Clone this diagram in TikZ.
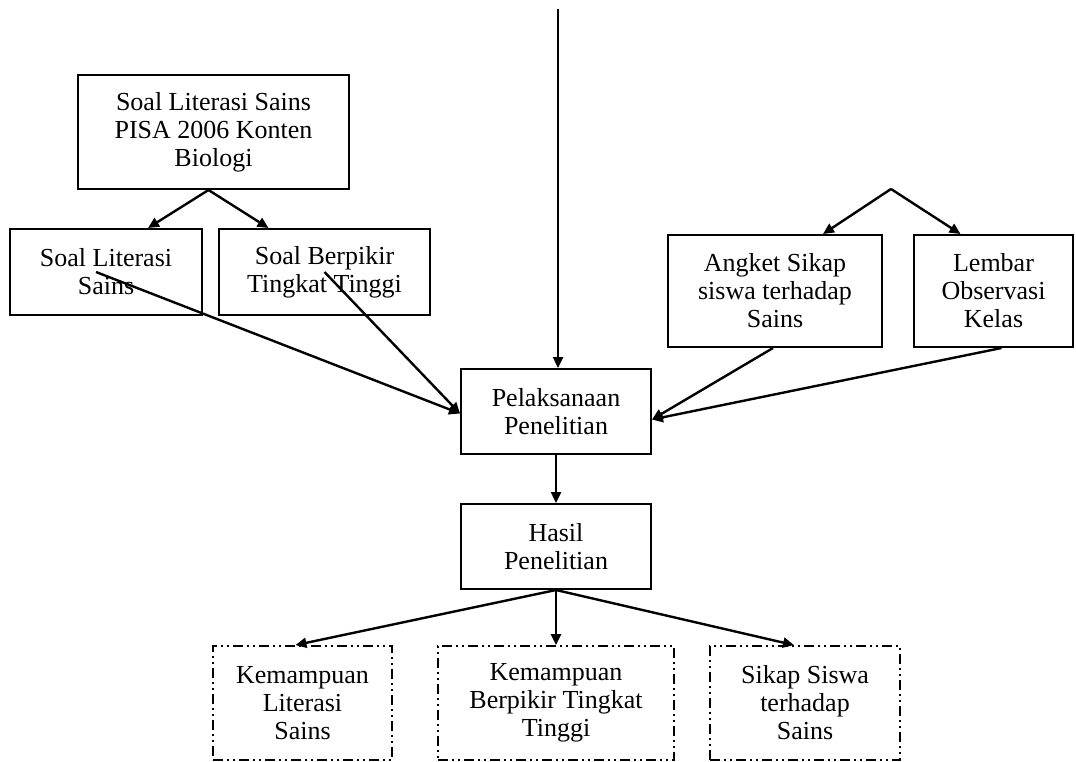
\documentclass[tikz,border=0pt]{standalone}
\usepackage{fontspec}
\setmainfont{Liberation Serif}
\usetikzlibrary{arrows.meta}
\begin{document}
\begin{tikzpicture}[x=1pt,y=-1pt]
\tikzset{
  flowbox/.style={rectangle,draw,line width=2pt,align=center,inner sep=0pt,font=\fontsize{26}{28}\selectfont},
  resultbox/.style={flowbox,line width=1.8pt,dash pattern=on 10pt off 4pt on 2pt off 4pt on 2pt off 4pt},
  directed/.style={-{Triangle[length=11pt,width=10pt]},line width=2.4pt},
  undirected/.style={line width=2.4pt}
}
\useasboundingbox (0,0) rectangle (1076,762);
\node[flowbox,minimum width=271pt,minimum height=114pt] (n_soal) at (213.5,132) {Soal Literasi Sains\\PISA 2006 Konten\\Biologi};
\node[flowbox,minimum width=192pt,minimum height=86pt] (n_lit) at (106,272) {Soal Literasi\\Sains};
\node[flowbox,minimum width=211pt,minimum height=86pt] (n_hots) at (324.5,272) {Soal Berpikir\\Tingkat Tinggi};
\node[flowbox,minimum width=214pt,minimum height=112pt] (n_angket) at (775,291) {Angket Sikap\\siswa terhadap\\Sains};
\node[flowbox,minimum width=159pt,minimum height=112pt] (n_lembar) at (993.5,291) {Lembar\\Observasi\\Kelas};
\node[flowbox,minimum width=190pt,minimum height=85pt] (n_pelaks) at (556,411.5) {Pelaksanaan\\Penelitian};
\node[flowbox,minimum width=190pt,minimum height=85pt] (n_hasil) at (556,546.5) {Hasil\\Penelitian};
\node[resultbox,minimum width=179pt,minimum height=114pt] (n_klit) at (302.5,703) {Kemampuan\\Literasi\\Sains};
\node[resultbox,minimum width=236pt,minimum height=114pt] (n_khots) at (556,703) {Kemampuan\\Berpikir Tingkat\\Tinggi};
\node[resultbox,minimum width=190pt,minimum height=114pt] (n_sikap) at (805,703) {Sikap Siswa\\terhadap\\Sains};
\coordinate (c_top) at (558,9);
\coordinate (c_split) at (891,189);
\draw[directed] ([xshift=-5pt]n_soal.south) -- ([xshift=42pt]n_lit.north);
\draw[directed] ([xshift=-5pt]n_soal.south) -- ([xshift=-56pt]n_hots.north);
\draw[directed] (c_split) -- ([xshift=48pt]n_angket.north);
\draw[directed] (c_split) -- ([xshift=-33pt]n_lembar.north);
\draw[directed] ([xshift=-10pt]n_lit.center) -- ([yshift=-2pt]n_pelaks.west);
\draw[directed] (n_hots.center) -- ([yshift=-2pt]n_pelaks.west);
\draw[directed] ([xshift=-2pt]n_angket.south) -- ([yshift=-8pt]n_pelaks.east);
\draw[directed] ([xshift=8pt]n_lembar.south) -- ([yshift=-8pt]n_pelaks.east);
\draw[directed] (c_top) -- (c_top |- n_pelaks.north);
\draw[directed] (n_pelaks) -- (n_hasil);
\draw[directed] (n_hasil.south) -- ([xshift=-7pt]n_klit.north);
\draw[directed] (n_hasil.south) -- (n_khots.north);
\draw[directed] (n_hasil.south) -- ([xshift=-11pt]n_sikap.north);
\end{tikzpicture}
\end{document}
